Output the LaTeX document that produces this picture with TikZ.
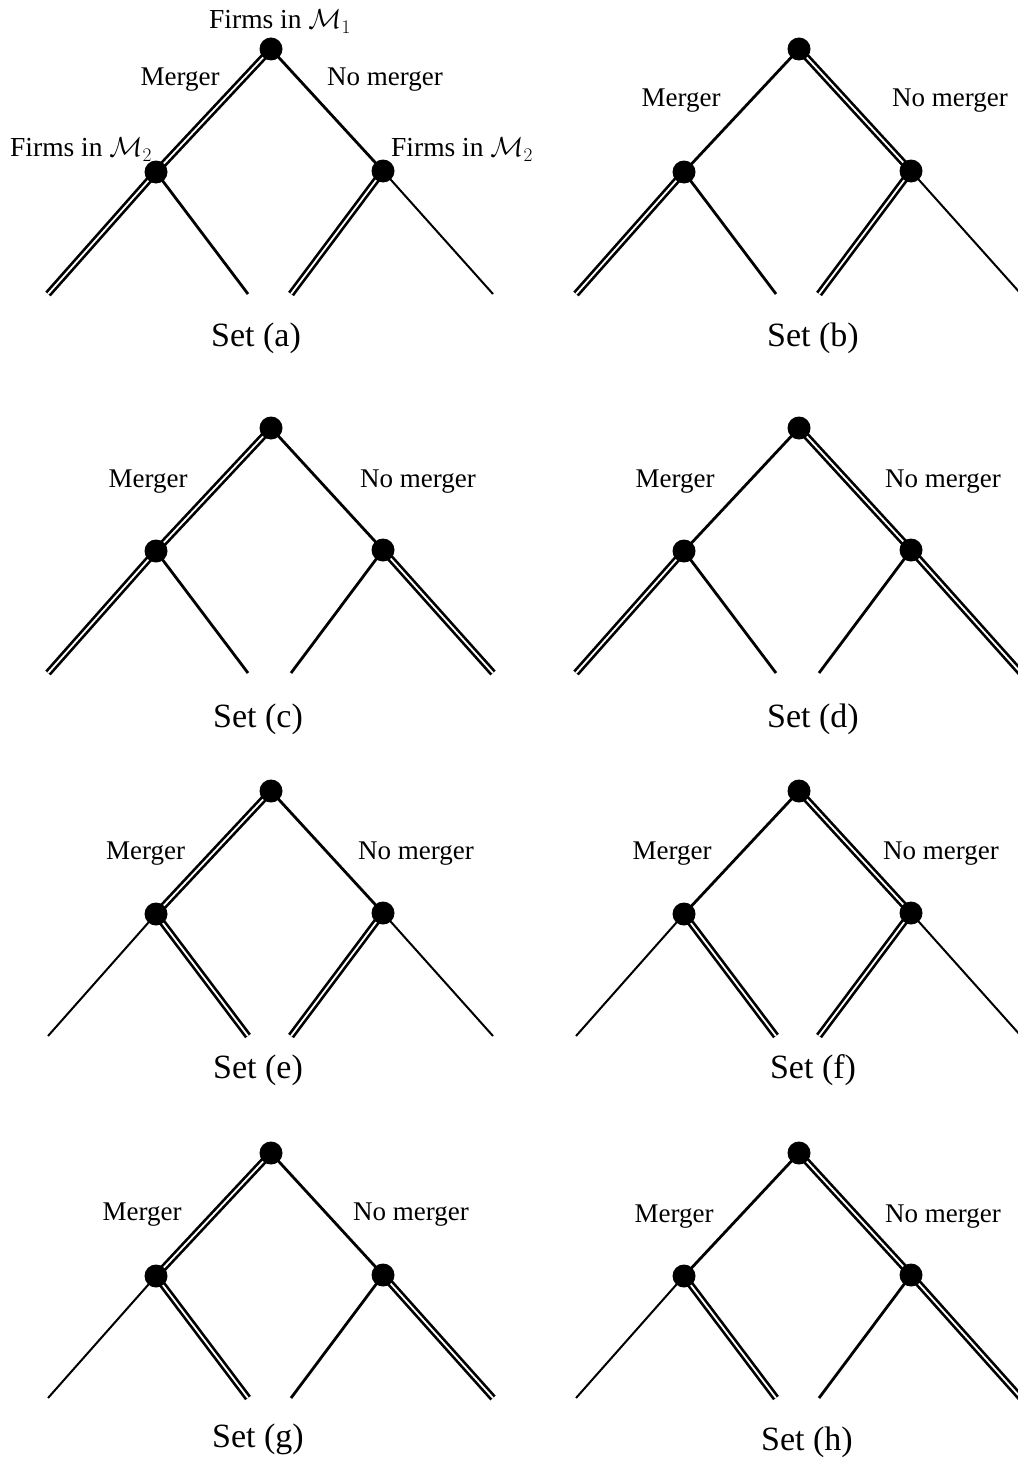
\RequirePackage{fix-cm}
\documentclass[tikz,border=0pt]{standalone}
\usepackage{fontspec}
\setmainfont{Liberation Serif}
\usetikzlibrary{backgrounds}
\pgfdeclarelayer{edges}
\pgfsetlayers{edges,main}
\tikzset{
  dot/.style={circle, fill=black, inner sep=0pt, minimum size=23pt},
  sgl/.style={line width=2.8pt},
  thn/.style={line width=2.0pt},
  dbl/.style={line width=2.7pt, double=white, double distance=1.8pt},
  lab/.style={font=\fontsize{27}{30}\selectfont, anchor=base, inner sep=0pt},
  firms/.style={font=\fontsize{27.5}{32}\selectfont, anchor=base, inner sep=0pt},
  setlab/.style={font=\fontsize{34}{40}\selectfont, anchor=base, inner sep=0pt},
}
\newcommand{\mytree}[9]{%
  \node[dot] (#1r) at (#2,#3) {};
  \node[dot] (#1L) at (#2-115,#3+123) {};
  \node[dot] (#1R) at (#2+112,#3+122) {};
  \coordinate (#1LL) at (#2-223,#3+245);
  \coordinate (#1LR) at (#2-23,#3+245);
  \coordinate (#1RL) at (#2+20,#3+245);
  \coordinate (#1RR) at (#2+222,#3+245);
  \begin{pgfonlayer}{edges}
    \draw[#4] (#1r.center) -- (#1L.center);
    \draw[#5] (#1r.center) -- (#1R.center);
    \draw[#6] (#1L.center) -- (#1LL);
    \draw[#7] (#1L.center) -- (#1LR);
    \draw[#8] (#1R.center) -- (#1RL);
    \draw[#9] (#1R.center) -- (#1RR);
  \end{pgfonlayer}
}
\begin{document}
\begin{tikzpicture}[x=1pt,y=-1pt]
\begin{pgfonlayer}{edges}
  \fill[white] (0,0) rectangle (1017,1461);
\end{pgfonlayer}
\clip (0,0) rectangle (1017,1461);

% Row 1
\mytree{a}{271}{49}{dbl}{sgl}{dbl}{sgl}{dbl}{thn}
\mytree{b}{799}{49}{sgl}{dbl}{dbl}{sgl}{dbl}{thn}
% Row 2
\mytree{c}{271}{428}{dbl}{sgl}{dbl}{sgl}{sgl}{dbl}
\mytree{d}{799}{428}{sgl}{dbl}{dbl}{sgl}{sgl}{dbl}
% Row 3
\mytree{e}{271}{791}{dbl}{sgl}{thn}{dbl}{dbl}{thn}
\mytree{f}{799}{791}{sgl}{dbl}{thn}{dbl}{dbl}{thn}
% Row 4
\mytree{g}{271}{1153}{dbl}{sgl}{thn}{dbl}{sgl}{dbl}
\mytree{h}{799}{1153}{sgl}{dbl}{thn}{dbl}{sgl}{dbl}

% Labels tree (a)
\node[firms] (aF1) at (280,29) {Firms in $\mathcal{M}_1$};
\node[firms] (aF2l) at (81,157) {Firms in $\mathcal{M}_2$};
\node[firms] (aF2r) at (462,157) {Firms in $\mathcal{M}_2$};
\node[lab] (aM) at (180,86) {Merger};
\node[lab] (aN) at (385,86) {No merger};
\node[setlab] (aS) at (256,346) {Set (a)};

% (b)
\node[lab] (bM) at (681,107) {Merger};
\node[lab] (bN) at (950,107) {No merger};
\node[setlab] (bS) at (813,346) {Set (b)};

% (c)
\node[lab] (cM) at (148,487) {Merger};
\node[lab] (cN) at (418,487) {No merger};
\node[setlab] (cS) at (258,727) {Set (c)};

% (d)
\node[lab] (dM) at (675,487) {Merger};
\node[lab] (dN) at (943,487) {No merger};
\node[setlab] (dS) at (813,727) {Set (d)};

% (e)
\node[lab] (eM) at (145.5,859) {Merger};
\node[lab] (eN) at (416,859) {No merger};
\node[setlab] (eS) at (258,1078) {Set (e)};

% (f)
\node[lab] (fM) at (672,859) {Merger};
\node[lab] (fN) at (941,859) {No merger};
\node[setlab] (fS) at (813,1078) {Set (f)};

% (g)
\node[lab] (gM) at (142,1220) {Merger};
\node[lab] (gN) at (411,1220) {No merger};
\node[setlab] (gS) at (258,1447) {Set (g)};

% (h)
\node[lab] (hM) at (674,1222) {Merger};
\node[lab] (hN) at (943,1222) {No merger};
\node[setlab] (hS) at (807,1450) {Set (h)};
\end{tikzpicture}
\end{document}
